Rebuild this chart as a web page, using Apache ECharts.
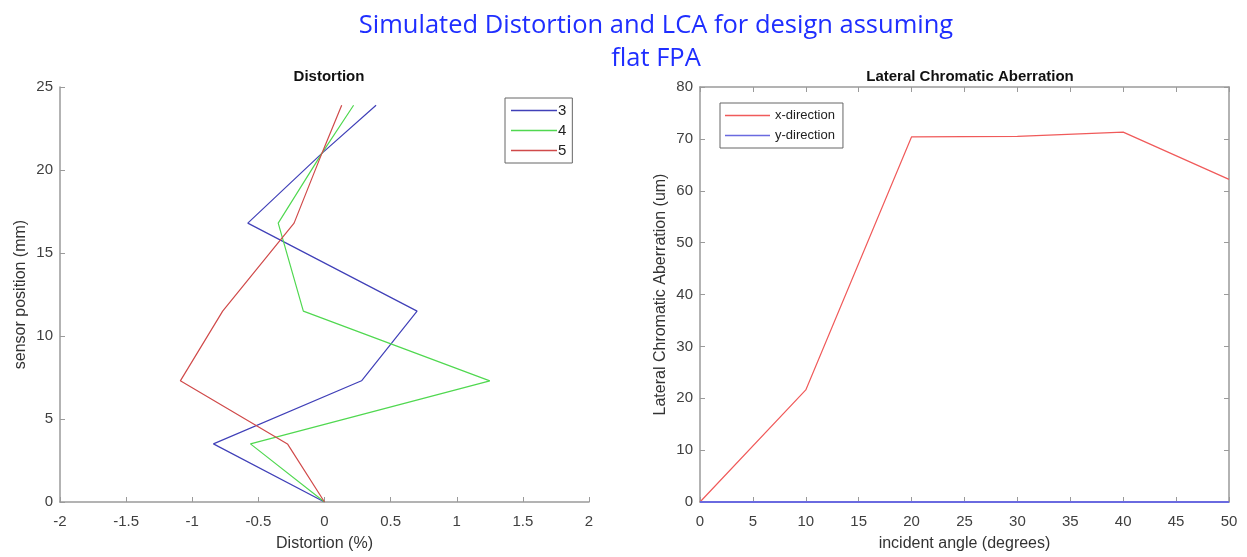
<!DOCTYPE html>
<html>
<head>
<meta charset="utf-8">
<script src="https://cdn.jsdelivr.net/npm/echarts@6/dist/echarts.min.js"></script>
<style>html,body{margin:0;padding:0;background:#fff}#c{width:1247px;height:557px}</style>
</head>
<body>
<div id="c"></div>
<script>
// Left: Distortion
const sensorPos = [0, 3.5, 7.3, 11.5, 16.8, 21, 23.9];
const dist3 = [0, -0.84, 0.28, 0.70, -0.58, -0.02, 0.39];
const dist4 = [0, -0.56, 1.25, -0.16, -0.35, -0.02, 0.22];
const dist5 = [0, -0.28, -1.09, -0.77, -0.23, -0.02, 0.13];
// Right: LCA
const angles = [0, 10, 20, 30, 40, 50];
const lcaX = [0, 21.6, 70.4, 70.5, 71.3, 62.2];
const lcaY = [0, 0, 0, 0, 0, 0];

const chart = echarts.init(document.getElementById('c'));
const font = 'Liberation Sans, Arial, sans-serif';
const axisGray = '#9a9a9a';
const labelStyle = {color: '#404040', fontSize: 15, fontFamily: font};
const nameStyle = {color: '#333', fontSize: 16, fontFamily: font};
function pairs(xs, ys){ return xs.map((x,i)=>[x, ys[i]]); }

const baseAxis = {
  axisLine: {show: true, onZero: false, lineStyle: {color: axisGray, width: 1.5}},
  axisTick: {show: true, inside: true, length: 5, lineStyle: {color: axisGray}},
  splitLine: {show: false},
  axisLabel: Object.assign({}, labelStyle),
  nameTextStyle: nameStyle,
  nameLocation: 'middle'
};
function ax(o){
  const a = Object.assign({}, JSON.parse(JSON.stringify(baseAxis)), o);
  if (o.labelMargin) { a.axisLabel.margin = o.labelMargin; delete a.labelMargin; }
  return a;
}

chart.setOption({
  animation: false,
  backgroundColor: '#fff',
  title: [
    {text: 'Simulated Distortion and LCA for design assuming\nflat FPA', left: 651, top: 4, textAlign: 'center',
     textStyle: {color: '#1f2eff', fontSize: 25.5, fontWeight: 'normal', fontFamily: 'Open Sans, sans-serif', lineHeight: 33}},
    {text: 'Distortion', left: 324, top: 64, textAlign: 'center',
     textStyle: {color: '#111', fontSize: 15, fontWeight: 'bold', fontFamily: font}},
    {text: 'Lateral Chromatic Aberration', left: 965, top: 64, textAlign: 'center',
     textStyle: {color: '#111', fontSize: 15, fontWeight: 'bold', fontFamily: font}}
  ],
  legend: [
    {data: ['3','4','5'], left: 505, top: 98, width: 72, orient: 'vertical', itemGap: 5,
     padding: [5, 6, 5, 6], borderColor: '#666', borderWidth: 1, backgroundColor: '#fff',
     icon: 'rect', itemWidth: 46, itemHeight: 1.5, textStyle: {fontSize: 15, color: '#222', fontFamily: font, padding: [0,0,0,-4], lineHeight: 14}},
    {data: ['x-direction','y-direction'], left: 720, top: 103, orient: 'vertical', itemGap: 5,
     padding: [5, 8, 5, 5], borderColor: '#666', borderWidth: 1, backgroundColor: '#fff',
     icon: 'rect', itemWidth: 45, itemHeight: 1.5, textStyle: {fontSize: 13, color: '#222', fontFamily: font, lineHeight: 15}}
  ],
  grid: [
    {left: 60, top: 87, width: 529, height: 416},
    {left: 700, top: 87, width: 529, height: 416}
  ],
  xAxis: [
    ax({gridIndex: 0, type: 'value', min: -2, max: 2, interval: 0.5, name: 'Distortion (%)', nameGap: 34, position: 'bottom', labelMargin: 12}),
    ax({gridIndex: 1, type: 'value', min: 0, max: 50, interval: 5, name: 'incident angle (degrees)', nameGap: 34, position: 'bottom', labelMargin: 12}),
    ax({gridIndex: 1, type: 'value', min: 0, max: 50, interval: 5, position: 'top', axisLabel: {show: false}})
  ],
  yAxis: [
    ax({gridIndex: 0, type: 'value', min: 0, max: 25, interval: 5, name: 'sensor position (mm)', nameGap: 31, position: 'left', labelMargin: 7}),
    ax({gridIndex: 1, type: 'value', min: 0, max: 80, interval: 10, name: 'Lateral Chromatic Aberration (um)', nameGap: 31, position: 'left', labelMargin: 7}),
    ax({gridIndex: 1, type: 'value', min: 0, max: 80, interval: 10, position: 'right', axisLabel: {show: false}})
  ],
  series: [
    {name: '3', type: 'line', xAxisIndex: 0, yAxisIndex: 0, data: pairs(dist3, sensorPos), symbol: 'none',
     lineStyle: {color: '#4040b8', width: 1.2}, itemStyle: {color: '#4040b8'}},
    {name: '4', type: 'line', xAxisIndex: 0, yAxisIndex: 0, data: pairs(dist4, sensorPos), symbol: 'none',
     lineStyle: {color: '#50d850', width: 1.2}, itemStyle: {color: '#50d850'}},
    {name: '5', type: 'line', xAxisIndex: 0, yAxisIndex: 0, data: pairs(dist5, sensorPos), symbol: 'none',
     lineStyle: {color: '#d04a4a', width: 1.2}, itemStyle: {color: '#d04a4a'}},
    {name: 'x-direction', type: 'line', xAxisIndex: 1, yAxisIndex: 1, data: pairs(angles, lcaX), symbol: 'none',
     lineStyle: {color: '#f05a5a', width: 1.2}, itemStyle: {color: '#f05a5a'}},
    {name: 'y-direction', type: 'line', xAxisIndex: 1, yAxisIndex: 1, data: pairs(angles, lcaY), symbol: 'none',
     lineStyle: {color: '#6a6ae0', width: 2}, itemStyle: {color: '#6a6ae0'}}
  ]
});
</script>
</body>
</html>
